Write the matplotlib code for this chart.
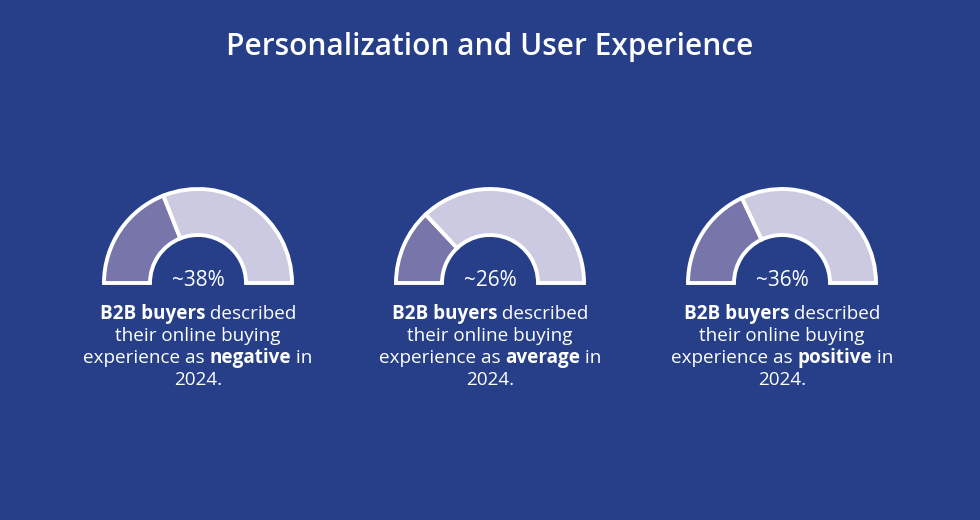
import matplotlib
matplotlib.use("Agg")
import matplotlib.pyplot as plt
from matplotlib.patches import Wedge

title = "Personalization and User Experience"
shares = [38, 26, 36]
share_labels = ["~38%", "~26%", "~36%"]
sentiments = ["negative", "average", "positive"]
year = "2024"

BG = "#263f88"
DARK = "#7775a9"
LIGHT = "#cccae0"
FONT = "Open Sans"

W, H = 980, 520
fig = plt.figure(figsize=(9.8, 5.2), dpi=100, facecolor=BG)
ax = fig.add_axes([0, 0, 1, 1])
ax.set_xlim(0, W)
ax.set_ylim(H, 0)
ax.set_facecolor(BG)
ax.axis("off")
ax.set_aspect("equal")

ax.text(W / 2, 47, title, color="white", fontsize=21.5, fontweight="semibold",
        family=FONT, ha="center", va="center")

centers = [198, 490, 782]
cy = 283
r_out = 94
ring_w = 46

fig.canvas.draw()
renderer = fig.canvas.get_renderer()


def draw_line(cx, y, segments):
    texts = []
    for s, bold in segments:
        t = ax.text(0, y, s, color="white", fontsize=13.6, family=FONT,
                    fontweight="bold" if bold else "normal",
                    ha="left", va="center")
        texts.append(t)
    widths = []
    for t in texts:
        bb = t.get_window_extent(renderer=renderer)
        widths.append(bb.width)
    total = sum(widths)
    x = cx - total / 2
    for t, w in zip(texts, widths):
        t.set_x(x)
        x += w


for cx, share, lab, sent in zip(centers, shares, share_labels, sentiments):
    split = 180 - share / 100 * 180
    ax.add_patch(Wedge((cx, cy), r_out, 180, 360, width=ring_w,
                       facecolor=LIGHT, edgecolor="none"))
    # y axis is inverted, so angles run clockwise: use negative angles
    ax.add_patch(Wedge((cx, cy), r_out, -180, -split, width=ring_w,
                       facecolor=DARK, edgecolor="white", linewidth=2.8))
    ax.add_patch(Wedge((cx, cy), r_out, -split, 0, width=ring_w,
                       facecolor=LIGHT, edgecolor="white", linewidth=2.8))
    ax.text(cx, 281, lab, color="white", fontsize=15, family=FONT,
            ha="center", va="center")
    draw_line(cx, 314, [("B2B buyers", True), (" described", False)])
    draw_line(cx, 336, [("their online buying", False)])
    draw_line(cx, 358, [("experience as ", False), (sent, True), (" in", False)])
    draw_line(cx, 380, [(year + ".", False)])

fig.savefig("out.png", dpi=100, facecolor=BG)
